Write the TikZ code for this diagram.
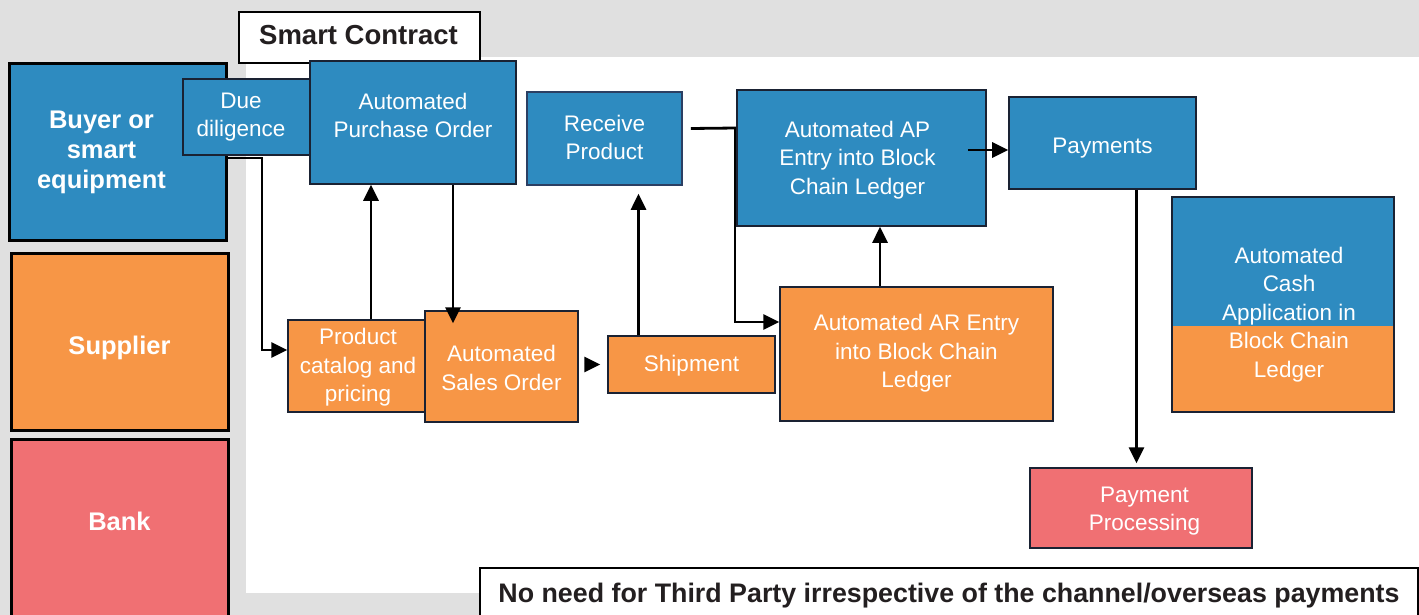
\documentclass[tikz,border=0pt]{standalone}
\usepackage{fontspec}
\setmainfont{Liberation Sans}
\usetikzlibrary{arrows.meta}
\definecolor{cblue}{HTML}{2E8BC0}
\definecolor{corange}{HTML}{F79646}
\definecolor{cred}{HTML}{F07073}
\definecolor{cgray}{HTML}{E0E0E0}
\definecolor{cedge}{HTML}{1A2233}
\definecolor{cnavy}{HTML}{2B3F63}
\definecolor{cink}{HTML}{231F20}
% centred block of lines, nudged by (#1, #2) without changing the node size
\newcommand\boxtext[3]{\hspace*{#1}\raisebox{\dimexpr#2-3pt\relax}[\height][\depth]{\begin{tabular}{@{}c@{}}#3\end{tabular}}\hspace*{-#1}}
\tikzset{
  stepbox/.style={draw=cedge, line width=1.6pt, inner sep=0pt, text=white,
    font=\fontsize{22.5}{28.5}\selectfont},
  role/.style={draw=black, line width=3pt, inner sep=0pt, text=white,
    font=\fontsize{25.5}{30}\selectfont\bfseries},
  banner/.style={draw=black, line width=1.2pt, fill=white, inner sep=0pt, text=cink,
    font=\bfseries},
  link/.style={line width=2.8pt, draw=black},
  arr/.style={link, -{Triangle[length=16pt,width=15pt]}},
}
\begin{document}
\begin{tikzpicture}[x=1pt,y=-1pt]
\useasboundingbox (0,0) rectangle (1419,615);
% canvas and contract area
\fill[cgray] (0,0) rectangle (1419,615);
\fill[white] (246,57) rectangle (1419,593);
\node[banner, minimum width=241pt, minimum height=51pt, font=\fontsize{27.5}{30}\selectfont\bfseries]
  (smart) at (359.5,37.5) {\boxtext{-1pt}{2pt}{Smart Contract}};

% parties
\node[role, fill=cblue, minimum width=217pt, minimum height=176pt] (buyer) at (117.5,152)
  {\boxtext{-16pt}{2pt}{Buyer or\\smart\\equipment}};
\node[role, fill=corange, minimum width=217pt, minimum height=177pt] (supplier) at (119.5,341.5)
  {\boxtext{0pt}{-3.5pt}{Supplier}};
\node[role, fill=cred, minimum width=217pt, minimum height=186pt] (bank) at (119.5,532)
  {\boxtext{0pt}{11pt}{Bank}};

% buyer side steps
\node[stepbox, fill=cblue, minimum width=128pt, minimum height=76pt] (dd) at (247,117)
  {\boxtext{-6pt}{3pt}{Due\\diligence}};
\node[stepbox, fill=cblue, minimum width=206pt, minimum height=123pt] (apo) at (413,122.5)
  {\boxtext{0pt}{7.5pt}{Automated\\Purchase Order}};
\node[stepbox, draw=cnavy, fill=cblue, minimum width=155pt, minimum height=93pt] (recv) at (604.5,138.5)
  {\boxtext{0pt}{1.5pt}{Receive\\Product}};
\node[stepbox, fill=cblue, minimum width=249pt, minimum height=136pt] (ap) at (861.5,158)
  {\boxtext{-4pt}{1pt}{Automated AP\\Entry into Block\\Chain Ledger}};
\node[stepbox, fill=cblue, minimum width=187pt, minimum height=92pt] (pay) at (1102.5,143)
  {\boxtext{0pt}{-2pt}{Payments}};
\node[stepbox, line width=1.2pt, fill=cblue, minimum width=222pt, minimum height=215pt,
  path picture={\fill[corange] (path picture bounding box.south west)
    rectangle ([yshift=-21.5pt]path picture bounding box.east);}] (cash) at (1283,304.5)
  {\boxtext{6pt}{-7pt}{Automated\\Cash\\Application in\\Block Chain\\Ledger}};

% supplier side steps
\node[stepbox, line width=1.3pt, fill=corange, minimum width=137pt, minimum height=92pt] (cat) at (356.5,366)
  {\boxtext{1.5pt}{1.5pt}{Product\\catalog and\\pricing}};
\node[stepbox, line width=1.3pt, fill=corange, minimum width=153pt, minimum height=111pt] (sales) at (501.5,366.5)
  {\boxtext{0pt}{-1pt}{Automated\\Sales Order}};
\node[stepbox, line width=1.3pt, fill=corange, minimum width=167pt, minimum height=57pt] (ship) at (691.5,364.5)
  {\boxtext{0pt}{1.5pt}{Shipment}};
\node[stepbox, line width=1.3pt, fill=corange, minimum width=273pt, minimum height=134pt] (ar) at (916.5,354)
  {\boxtext{0pt}{3.5pt}{Automated AR Entry\\into Block Chain\\Ledger}};

% bank step
\node[stepbox, line width=1.3pt, fill=cred, minimum width=222pt, minimum height=80pt] (proc) at (1141,508)
  {\boxtext{3.5pt}{0pt}{Payment\\Processing}};

% footer statement
\node[banner, minimum width=938pt, minimum height=52pt, font=\fontsize{26.8}{30}\selectfont\bfseries]
  (note) at (949,594) {\boxtext{0pt}{1pt}{No need for Third Party irrespective of the channel/overseas payments}};

% flow
\coordinate (j1) at (262,158);
\coordinate (j2) at (735,128);
\draw[arr] ([yshift=-6pt]buyer.east) -- (j1) |- ([yshift=16pt]cat.west);
\draw[arr] ([xshift=14.5pt]cat.north) -- ([xshift=14.5pt]cat.north |- apo.south);
\draw[arr, shorten >=-13pt] ([xshift=40pt]apo.south) -- ([xshift=40pt]apo.south |- sales.north);
\draw[arr] ([xshift=6pt]sales.east |- ship.west) -- ([xshift=-7pt]ship.west);
\draw[arr, shorten >=8pt] ([xshift=-53pt]ship.north) -- ([xshift=-53pt]ship.north |- recv.south);
\draw[link] ([xshift=8pt,yshift=10pt]recv.east) -- ([yshift=30pt]ap.west);
\draw[arr] (j2) |- ([yshift=32pt]ar.west);
\draw[arr] ([xshift=-36.5pt]ar.north) -- ([xshift=-36.5pt]ar.north |- ap.south);
\draw[arr] ([xshift=-19pt,yshift=8pt]ap.east) -- ([yshift=-7pt]pay.west);
\draw[arr, shorten >=4pt] ([xshift=34pt]pay.south) -- ([xshift=34pt]pay.south |- proc.north);
\end{tikzpicture}
\end{document}
